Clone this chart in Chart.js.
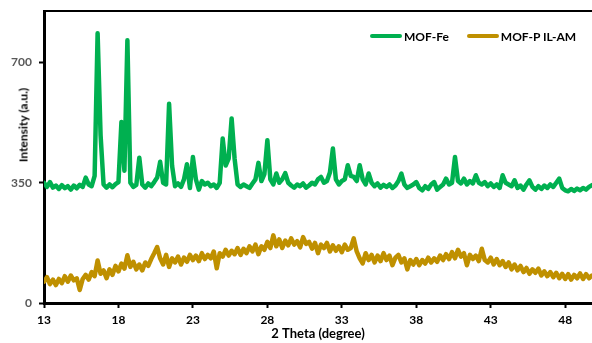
<!DOCTYPE html>
<html>
<head>
<meta charset="utf-8">
<script src="https://cdn.jsdelivr.net/npm/chart.js@4"></script>
<style>
  body { margin: 0; background: #fff; }
  #wrap { position: relative; width: 592px; height: 343px; }
  #yTitle { position: absolute; left: 22.5px; top: 125px; transform: translate(-50%, -50%) rotate(-90deg);
            font: bold 12px Lato, sans-serif; color: #000; white-space: nowrap; }
  #legend { position: absolute; left: 370px; top: 28px; height: 16px; display: flex; align-items: center;
            font: bold 12px Lato, sans-serif; color: #000; white-space: nowrap; }
  .item { display: flex; align-items: center; margin-right: 18px; }
  .swatch { width: 32px; height: 4px; margin-right: 2px; border-radius: 2px; }
</style>
</head>
<body>
<div id="wrap">
  <canvas id="xrd" width="592" height="343"></canvas>
  <div id="yTitle">Intensity (a.u.)</div>
  <div id="legend"></div>
</div>
<script>
// 2 theta positions (degree)
const twoTheta = [
  13.0,13.2,13.4,13.6,13.8,14.0,14.2,14.4,14.6,14.8,
  15.0,15.2,15.4,15.6,15.8,16.0,16.2,16.4,16.6,16.8,
  17.0,17.2,17.4,17.6,17.8,18.0,18.2,18.4,18.6,18.8,
  19.0,19.2,19.4,19.6,19.8,20.0,20.2,20.4,20.6,20.8,
  21.0,21.2,21.4,21.6,21.8,22.0,22.2,22.4,22.6,22.8,
  23.0,23.2,23.4,23.6,23.8,24.0,24.2,24.4,24.6,24.8,
  25.0,25.2,25.4,25.6,25.8,26.0,26.2,26.4,26.6,26.8,
  27.0,27.2,27.4,27.6,27.8,28.0,28.2,28.4,28.6,28.8,
  29.0,29.2,29.4,29.6,29.8,30.0,30.2,30.4,30.6,30.8,
  31.0,31.2,31.4,31.6,31.8,32.0,32.2,32.4,32.6,32.8,
  33.0,33.2,33.4,33.6,33.8,34.0,34.2,34.4,34.6,34.8,
  35.0,35.2,35.4,35.6,35.8,36.0,36.2,36.4,36.6,36.8,
  37.0,37.2,37.4,37.6,37.8,38.0,38.2,38.4,38.6,38.8,
  39.0,39.2,39.4,39.6,39.8,40.0,40.2,40.4,40.6,40.8,
  41.0,41.2,41.4,41.6,41.8,42.0,42.2,42.4,42.6,42.8,
  43.0,43.2,43.4,43.6,43.8,44.0,44.2,44.4,44.6,44.8,
  45.0,45.2,45.4,45.6,45.8,46.0,46.2,46.4,46.6,46.8,
  47.0,47.2,47.4,47.6,47.8,48.0,48.2,48.4,48.6,48.8,
  49.0,49.2,49.4,49.6,49.8
];

// MOF-Fe intensities
const mofFe = [
  350,338,352,336,342,332,343,334,340,330,
  342,334,344,338,365,345,340,370,785,488,
  345,336,345,337,346,352,527,385,765,350,
  338,344,423,345,336,348,340,352,365,411,
  350,345,580,400,340,348,338,360,404,335,
  425,360,330,355,345,350,340,345,335,350,
  479,400,420,537,420,345,338,345,340,335,
  348,360,408,355,375,474,360,345,377,350,
  360,378,350,342,336,345,340,348,336,342,
  350,345,360,367,350,355,380,450,360,345,
  355,360,401,370,367,355,401,360,345,377,
  350,340,348,336,344,338,345,335,342,355,
  377,345,335,340,345,352,335,328,340,332,
  345,352,330,338,345,362,345,350,425,355,
  348,362,345,355,348,372,350,345,352,340,
  348,338,345,335,372,350,345,340,357,335,
  342,330,345,357,338,330,340,332,342,335,
  345,338,350,362,335,328,325,332,326,333,
  328,335,330,338,343
];

// MOF-P IL-AM intensities
const mofPil = [
  62,75,55,68,52,70,58,78,62,80,
  66,72,38,70,82,68,90,78,124,85,
  95,72,98,82,108,92,115,100,139,105,
  120,98,112,95,118,108,128,145,163,130,
  112,140,105,130,118,135,112,132,120,140,
  125,138,122,145,128,140,130,150,101,145,
  135,155,138,152,142,160,140,158,145,165,
  150,170,142,165,155,178,160,197,165,185,
  160,182,168,188,170,180,162,192,172,178,
  158,175,145,170,160,175,150,168,152,165,
  148,170,155,160,188,150,130,115,145,125,
  140,118,138,122,145,125,138,110,132,140,
  118,130,98,125,112,128,110,125,115,132,
  118,130,120,138,125,142,128,148,130,155,
  135,145,110,140,128,138,122,158,125,118,
  132,112,128,110,122,105,118,98,112,95,
  108,90,102,85,98,88,100,80,92,78,
  90,75,88,72,85,70,84,68,82,72,
  86,70,84,72,80
];

const xTicks = [13, 18, 23, 28, 33, 38, 43, 48];
const yTicks = [0, 350, 700];
const seriesNames = ['MOF-Fe', 'MOF-P IL-AM'];
const seriesColors = ['#00B050', '#BF9000'];

function points(ys) {
  return twoTheta.map((t, i) => ({ x: t, y: ys[i] }));
}

const tickFont = { family: 'Lato', size: 12, weight: 'bold' };
const tickGrid = { display: true, drawOnChartArea: false, drawTicks: true, tickLength: 5, tickWidth: 2, tickColor: '#000' };

const chart = new Chart(document.getElementById('xrd'), {
  type: 'line',
  data: {
    datasets: [mofFe, mofPil].map((ys, i) => ({
      label: seriesNames[i],
      data: points(ys),
      borderColor: seriesColors[i],
      backgroundColor: seriesColors[i],
      borderWidth: 4.5,
      borderJoinStyle: 'round',
      borderCapStyle: 'round',
      pointRadius: 0,
      tension: 0
    }))
  },
  options: {
    responsive: false,
    animation: false,
    layout: { padding: { top: 11, right: 0, bottom: 0, left: 0 } },
    plugins: { legend: { display: false }, tooltip: { enabled: false } },
    scales: {
      x: {
        type: 'linear', position: 'bottom', min: 13, max: 49.8,
        afterBuildTicks: s => { s.ticks = xTicks.map(v => ({ value: v })); },
        afterFit: s => { s.height = 40; },
        grid: tickGrid,
        border: { display: true, color: '#000', width: 3 },
        ticks: { color: '#000', font: tickFont, padding: 5, maxRotation: 0 },
        title: { display: true, text: '2 Theta (degree)', color: '#000',
                 font: { family: 'Lato', size: 13, weight: 'bold' }, padding: { top: 0, bottom: 1 } }
      },
      xTop: {
        type: 'linear', position: 'top', min: 13, max: 49.8,
        afterFit: s => { s.height = 0; },
        ticks: { display: false },
        grid: { display: false, drawTicks: false },
        border: { display: true, color: '#000', width: 2 }
      },
      y: {
        min: 0, max: 850,
        afterBuildTicks: s => { s.ticks = yTicks.map(v => ({ value: v })); },
        afterFit: s => { s.width = 44; s.paddingTop = 0; s.paddingBottom = 0; },
        grid: tickGrid,
        border: { display: true, color: '#000', width: 3 },
        ticks: { color: '#595959', font: tickFont, padding: 7 }
      }
    }
  }
});

// html legend from the datasets
const legendEl = document.getElementById('legend');
chart.data.datasets.forEach(ds => {
  const item = document.createElement('div');
  item.className = 'item';
  const sw = document.createElement('span');
  sw.className = 'swatch';
  sw.style.background = ds.borderColor;
  const txt = document.createElement('span');
  txt.textContent = ds.label;
  item.appendChild(sw);
  item.appendChild(txt);
  legendEl.appendChild(item);
});
</script>
</body>
</html>
